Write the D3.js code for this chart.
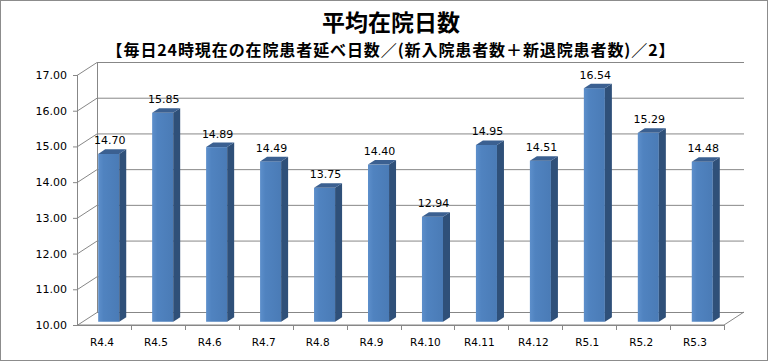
<!DOCTYPE html>
<html>
<head>
<meta charset="utf-8">
<script src="https://cdn.jsdelivr.net/npm/d3@7"></script>
<style>
  html, body { margin: 0; padding: 0; background: #fff; }
  svg { display: block; }
</style>
</head>
<body>
<svg id="chart" width="769" height="362"></svg>
<script>
const categories = ["R4.4", "R4.5", "R4.6", "R4.7", "R4.8", "R4.9", "R4.10", "R4.11", "R4.12", "R5.1", "R5.2", "R5.3"]
const values = [14.70, 15.85, 14.89, 14.49, 13.75, 14.40, 12.94, 14.95, 14.51, 16.54, 15.29, 14.48]
const yTicks = [10, 11, 12, 13, 14, 15, 16, 17]
const title = "平均在院日数"
const subtitle = "【毎日24時現在の在院患者延べ日数／(新入院患者数＋新退院患者数)／2】"

const svg = d3.select("#chart")

// 3d depth of the plot box
const depth = {dx: 20, dy: -13}
const barFront = 0.25, barBack = 0.6

const x = d3.scaleBand().domain(categories).range([77, 724]).paddingInner(0.61).paddingOuter(0.3)
const band = d3.scaleBand().domain(categories).range([77, 724])
const y = d3.scaleLinear().domain([10, 17]).range([325, 75])

const defs = svg.append("defs")
const grad = defs.append("linearGradient").attr("id", "front").attr("x1", 0).attr("x2", 1).attr("y1", 0).attr("y2", 0)
grad.append("stop").attr("offset", 0).attr("stop-color", "#5d8fcb")
grad.append("stop").attr("offset", 0.25).attr("stop-color", "#5083c0")
grad.append("stop").attr("offset", 1).attr("stop-color", "#4a7bb6")

svg.append("rect")
    .attr("x", 0.5).attr("y", 0.5).attr("width", 767).attr("height", 360)
    .attr("fill", "#fff").attr("stroke", "#8c8c8c")

// titles
svg.append("text")
    .attr("x", 391).attr("y", 31)
    .attr("text-anchor", "middle")
    .attr("font-family", "Noto Sans CJK JP")
    .attr("font-weight", 700)
    .attr("font-size", 23)
    .text(title)

svg.append("text")
    .attr("x", 391).attr("y", 56)
    .attr("text-anchor", "middle")
    .attr("font-family", "Noto Sans CJK JP")
    .attr("font-weight", 600)
    .attr("font-size", 16)
    .attr("letter-spacing", 0.9)
    .text(subtitle)

const [x0, x1] = band.range()
const grid = svg.append("g").attr("stroke", "#878787").attr("fill", "none").attr("stroke-width", 1)

// floor
const yb = y(10)
grid.append("path")
    .attr("d", `M${x0},${yb}L${x1},${yb}L${x1 + depth.dx},${yb + depth.dy}`)

// back wall + side wall gridlines
yTicks.forEach(t => {
    const yy = y(t) + 0.5
    grid.append("path")
        .attr("d", `M${x0},${yy}L${x0 + depth.dx},${yy + depth.dy}L${x1 + depth.dx},${yy + depth.dy}`)
})
grid.append("line")
    .attr("x1", x0 + depth.dx + 0.5).attr("x2", x0 + depth.dx + 0.5)
    .attr("y1", y(17) + depth.dy).attr("y2", y(10) + depth.dy)

// y axis
const yAxis = svg.append("g")
yAxis.append("line")
    .attr("x1", x0 + 0.5).attr("x2", x0 + 0.5)
    .attr("y1", y(17)).attr("y2", y(10))
    .attr("stroke", "#878787")
yAxis.selectAll("line.tick").data(yTicks).join("line")
    .attr("class", "tick")
    .attr("x1", x0 - 4).attr("x2", x0)
    .attr("y1", d => y(d) + 0.5).attr("y2", d => y(d) + 0.5)
    .attr("stroke", "#878787")
yAxis.selectAll("text").data(yTicks).join("text")
    .attr("x", 67).attr("y", d => y(d) + 4)
    .attr("text-anchor", "end")
    .attr("font-family", "DejaVu Sans")
    .attr("font-size", 11)
    .attr("fill", "#000")
    .text(d => d.toFixed(2))

// x axis
const xAxis = svg.append("g")
xAxis.append("line")
    .attr("x1", x0).attr("x2", x1)
    .attr("y1", yb + 0.5).attr("y2", yb + 0.5)
    .attr("stroke", "#878787")
xAxis.selectAll("line.tick").data(categories.slice(1).concat(["end"])).join("line")
    .attr("class", "tick")
    .attr("x1", d => Math.round(d === "end" ? x1 : band(d)) + 0.5)
    .attr("x2", d => Math.round(d === "end" ? x1 : band(d)) + 0.5)
    .attr("y1", yb).attr("y2", yb + 5)
    .attr("stroke", "#878787")
xAxis.selectAll("text").data(categories).join("text")
    .attr("x", d => band(d) + band.bandwidth() / 2 - 2)
    .attr("y", 346)
    .attr("text-anchor", "middle")
    .attr("font-family", "DejaVu Sans")
    .attr("font-size", 10.5)
    .text(d => d)

// bars
const bars = svg.append("g")
categories.forEach((c, i) => {
    const v = values[i]
    const fx = x(c) + barFront * depth.dx
    const fw = x.bandwidth()
    const fyTop = y(v) + barFront * depth.dy
    const fyBot = y(10) + barFront * depth.dy
    const ddx = (barBack - barFront) * depth.dx
    const ddy = (barBack - barFront) * depth.dy
    const g = bars.append("g")
    g.append("rect")
        .attr("x", fx).attr("y", fyTop).attr("width", fw).attr("height", fyBot - fyTop)
        .attr("fill", "url(#front)")
    g.append("path")
        .attr("d", `M${fx + fw},${fyTop}L${fx + fw + ddx},${fyTop + ddy}L${fx + fw + ddx},${fyBot + ddy}L${fx + fw},${fyBot}Z`)
        .attr("fill", "#2f5079")
    g.append("path")
        .attr("d", `M${fx},${fyTop}L${fx + ddx},${fyTop + ddy}L${fx + fw + ddx},${fyTop + ddy}L${fx + fw},${fyTop}Z`)
        .attr("fill", "#3b6091")
    g.append("text")
        .attr("x", fx + fw / 2 + 1)
        .attr("y", fyTop + ddy - 5)
        .attr("text-anchor", "middle")
        .attr("font-family", "DejaVu Sans")
        .attr("font-size", 11)
        .text(v.toFixed(2))
})
</script>
</body>
</html>
